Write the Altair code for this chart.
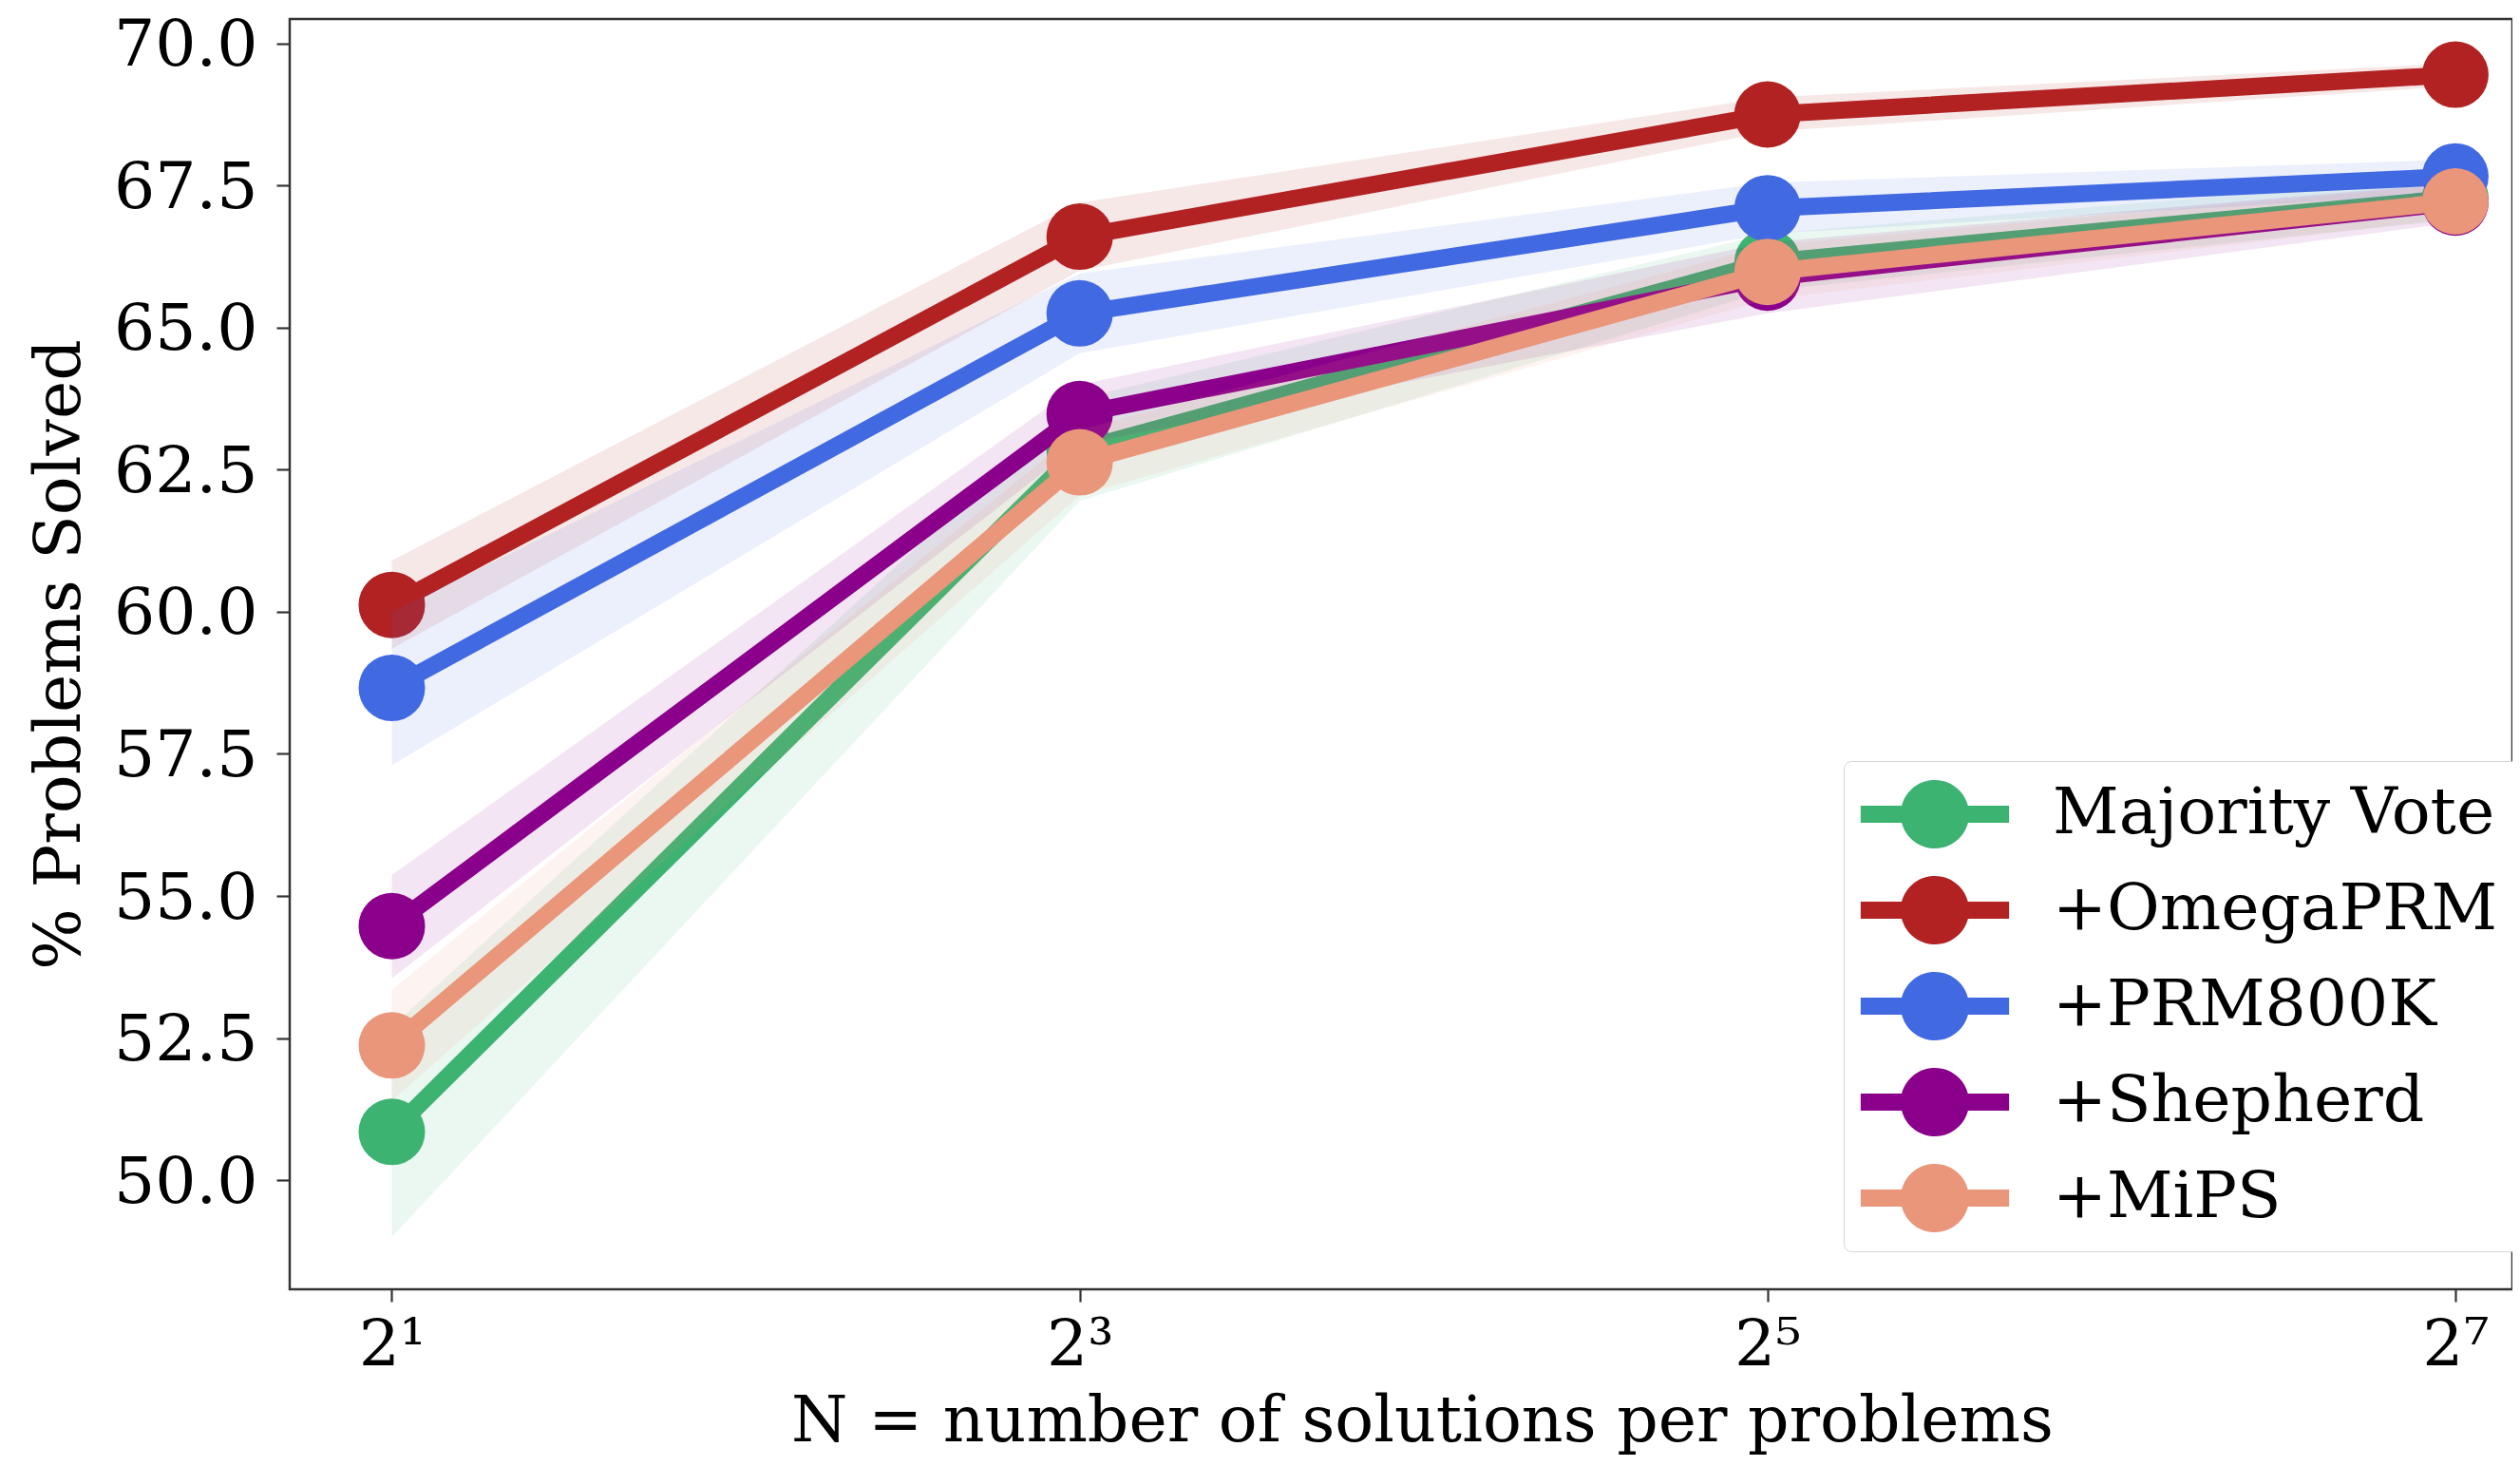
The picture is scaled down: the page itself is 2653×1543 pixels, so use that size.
import altair as alt
import pandas as pd

# ---------------- data ----------------
series = ["Majority Vote", "+OmegaPRM", "+PRM800K", "+Shepherd", "+MiPS"]
colors = ["#3cb371", "#b22222", "#4169e1", "#8b008b", "#e9967a"]
n_values = [2, 8, 32, 128]
x_tick_labels = ["2¹", "2³", "2⁵", "2⁷"]
y_ticks = [50.0, 52.5, 55.0, 57.5, 60.0, 62.5, 65.0, 67.5, 70.0]

majority = [50.85, 62.85, 66.15, 67.28]
majority_lo = [49.00, 61.95, 65.65, 66.90]
majority_hi = [52.70, 63.75, 66.65, 67.65]

omega = [60.12, 66.60, 68.75, 69.45]
omega_lo = [59.35, 66.00, 68.45, 69.25]
omega_hi = [60.90, 67.20, 69.05, 69.65]

prm800k = [58.66, 65.25, 67.10, 67.66]
prm800k_lo = [57.30, 64.55, 66.65, 67.36]
prm800k_hi = [60.00, 65.95, 67.55, 67.96]

shepherd = [54.47, 63.48, 65.88, 67.20]
shepherd_lo = [53.55, 62.95, 65.25, 66.85]
shepherd_hi = [55.37, 64.00, 66.50, 67.55]

mips = [52.37, 62.63, 65.98, 67.22]
mips_lo = [51.40, 62.05, 65.50, 66.92]
mips_hi = [53.35, 63.20, 66.45, 67.52]

means = [majority, omega, prm800k, shepherd, mips]
lows = [majority_lo, omega_lo, prm800k_lo, shepherd_lo, mips_lo]
highs = [majority_hi, omega_hi, prm800k_hi, shepherd_hi, mips_hi]

rows = []
for name, m, lo, hi in zip(series, means, lows, highs):
    for n, a, b, c in zip(n_values, m, lo, hi):
        rows.append({"series": name, "n": n, "acc": a, "lo": b, "hi": c})
df = pd.DataFrame(rows)

FONT = "DejaVu Serif"
FS = 68

label_expr = " : ".join(
    f"datum.value == {v} ? '{t}'" for v, t in zip(n_values, x_tick_labels)
) + " : ''"

x_enc = alt.X(
    "n:Q",
    scale=alt.Scale(type="log", base=2, domain=[1.628, 143.6], nice=False, zero=False),
    axis=alt.Axis(
        values=n_values,
        labelExpr=label_expr,
        title="N = number of solutions per problems",
        titleX=1192,
        grid=False,
        domain=False,
        tickColor="#333333",
        tickWidth=2.2,
        tickSize=13,
        labelFont=FONT,
        labelFontSize=FS,
        labelColor="black",
        labelPadding=12,
        titleFont=FONT,
        titleFontSize=FS,
        titleFontWeight="normal",
        titleColor="black",
        titlePadding=12,
    ),
)

y_scale = alt.Scale(domain=[48.08, 70.43], nice=False, zero=False)
y_enc = alt.Y(
    "acc:Q",
    scale=y_scale,
    axis=alt.Axis(
        values=y_ticks,
        format=".1f",
        title="% Problems Solved",
        grid=False,
        domain=False,
        tickColor="#333333",
        tickWidth=2.2,
        tickSize=14,
        labelFont=FONT,
        labelFontSize=FS,
        labelColor="black",
        labelPadding=20,
        labelOffset=3,
        titleFont=FONT,
        titleFontSize=FS,
        titleFontWeight="normal",
        titleColor="black",
        titlePadding=22,
    ),
)

legend_path = (
    "M-2.17,-0.25L2.17,-0.25L2.17,0.25L-2.17,0.25Z "
    "M-1,0A1,1 0 1,1 1,0A1,1 0 1,1 -1,0Z"
)

legend = alt.Legend(
    title=None,
    orient="none",
    legendX=1636,
    legendY=781,
    symbolType=legend_path,
    symbolSize=5184,
    symbolStrokeWidth=0,
    symbolOpacity=1,
    symbolOffset=40,
    labelFont=FONT,
    labelFontSize=FS,
    labelColor="black",
    labelOffset=88,
    labelLimit=1000,
    rowPadding=29,
    padding=20,
    fillColor="white",
    strokeColor="#d6d6d6",
    cornerRadius=8,
)

color_scale = alt.Scale(domain=series, range=colors)

layers = []
for name, col in zip(series, colors):
    base = alt.Chart(df).transform_filter(alt.datum.series == name)
    band = base.mark_area(opacity=0.1, color=col).encode(
        x=x_enc, y=alt.Y("lo:Q", scale=y_scale), y2="hi:Q"
    )
    line = base.mark_line(color=col, strokeWidth=18, strokeJoin="round").encode(
        x=x_enc, y=y_enc
    )
    pts = base.mark_circle(size=4900, opacity=1).encode(
        x=x_enc,
        y=y_enc,
        color=alt.Color("series:N", scale=color_scale, legend=legend),
    )
    layers += [band, line, pts]

chart = (
    alt.layer(*layers)
    .properties(
        width=2340,
        height=1337,
        autosize=alt.AutoSizeParams(type="none"),
        padding={"left": 297, "top": 12, "right": 0, "bottom": 178},
    )
    .configure(background="white")
    .configure_view(stroke="#333333", strokeWidth=2.5)
)

chart.save("out.html", embed_options={"renderer": "svg", "actions": False})
